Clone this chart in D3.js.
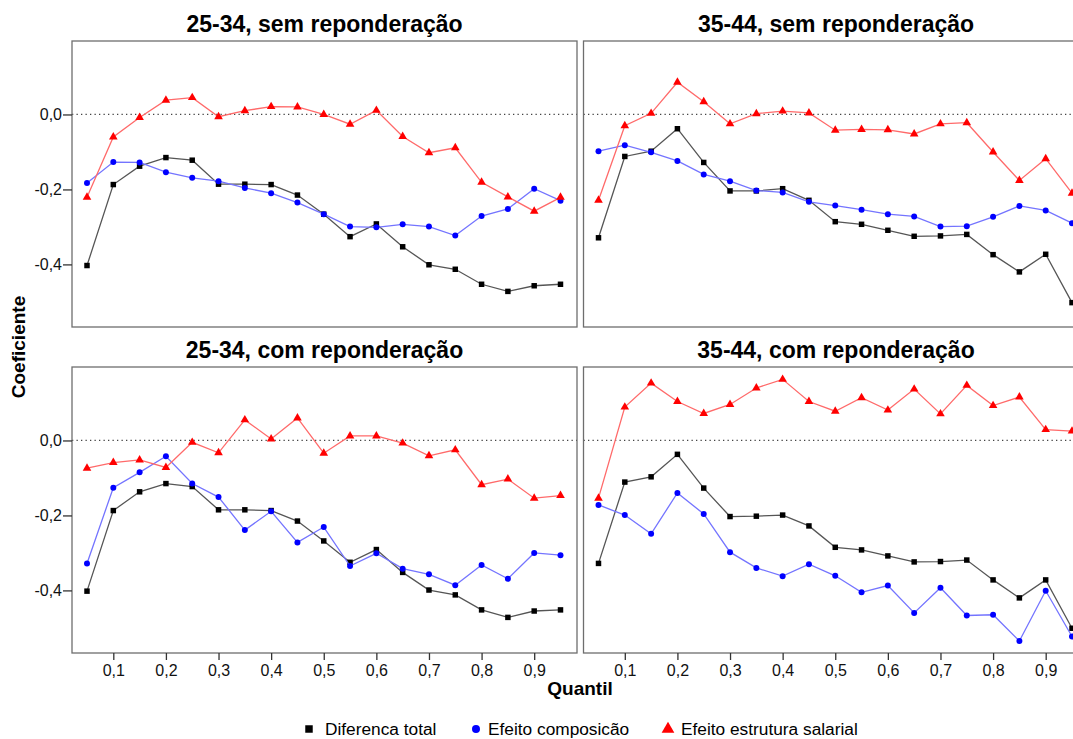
<!DOCTYPE html>
<html>
<head>
<meta charset="utf-8">
<script src="https://cdn.jsdelivr.net/npm/d3@7"></script>
<style>
  html, body { margin: 0; padding: 0; background: #fff; }
  svg { display: block; font-family: "Liberation Sans", Arial, sans-serif; }
</style>
</head>
<body>
<svg id="chart" width="1073" height="739"></svg>
<script>
// Quantiles shared by every panel
const quantis = [0.05, 0.10, 0.15, 0.20, 0.25, 0.30, 0.35, 0.40, 0.45, 0.50,
                 0.55, 0.60, 0.65, 0.70, 0.75, 0.80, 0.85, 0.90, 0.95];

// Axis ticks
const yTicks = [0, -0.2, -0.4];
const xTicks = [0.1, 0.2, 0.3, 0.4, 0.5, 0.6, 0.7, 0.8, 0.9];

// Series names
const seriesNames = ["Diferenca total", "Efeito composicão", "Efeito estrutura salarial"];

// 25-34, sem reponderação
const total2534 = [-0.403, -0.187, -0.138, -0.115, -0.122, -0.186, -0.186, -0.187, -0.215, -0.266,
                   -0.326, -0.292, -0.353, -0.401, -0.413, -0.453, -0.472, -0.457, -0.453];
const comp2534 = [-0.183, -0.127, -0.128, -0.154, -0.169, -0.178, -0.196, -0.210, -0.235, -0.266,
                  -0.299, -0.301, -0.293, -0.299, -0.323, -0.271, -0.252, -0.198, -0.230];
const estr2534 = [-0.221, -0.060, -0.008, 0.038, 0.045, -0.006, 0.010, 0.021, 0.020, 0.000,
                  -0.026, 0.011, -0.059, -0.102, -0.089, -0.181, -0.220, -0.258, -0.221];

// 35-44, sem reponderação
const total3544 = [-0.329, -0.112, -0.098, -0.038, -0.128, -0.204, -0.204, -0.198, -0.229, -0.286,
                   -0.293, -0.309, -0.325, -0.324, -0.320, -0.374, -0.420, -0.373, -0.502];
const comp3544 = [-0.098, -0.082, -0.101, -0.124, -0.160, -0.178, -0.203, -0.208, -0.233, -0.243,
                  -0.254, -0.266, -0.272, -0.299, -0.298, -0.273, -0.244, -0.256, -0.290];
const estr3544 = [-0.229, -0.030, 0.003, 0.086, 0.034, -0.025, 0.002, 0.009, 0.004, -0.042,
                  -0.040, -0.041, -0.052, -0.025, -0.022, -0.100, -0.176, -0.118, -0.210];

// 25-34, com reponderação
const total2534r = [-0.402, -0.187, -0.137, -0.115, -0.123, -0.185, -0.185, -0.187, -0.215, -0.268,
                    -0.325, -0.291, -0.352, -0.399, -0.412, -0.452, -0.472, -0.455, -0.452];
const comp2534r = [-0.328, -0.126, -0.085, -0.042, -0.115, -0.151, -0.239, -0.189, -0.272, -0.231,
                   -0.335, -0.301, -0.342, -0.357, -0.386, -0.332, -0.369, -0.300, -0.306];
const estr2534r = [-0.074, -0.059, -0.052, -0.072, -0.005, -0.033, 0.055, 0.004, 0.060, -0.034,
                   0.012, 0.012, -0.007, -0.041, -0.025, -0.118, -0.103, -0.154, -0.147];

// 35-44, com reponderação
const total3544r = [-0.328, -0.111, -0.097, -0.037, -0.127, -0.203, -0.202, -0.199, -0.228, -0.285,
                    -0.292, -0.308, -0.324, -0.323, -0.319, -0.372, -0.420, -0.372, -0.501];
const comp3544r = [-0.172, -0.199, -0.249, -0.140, -0.196, -0.298, -0.340, -0.362, -0.330, -0.361,
                   -0.405, -0.387, -0.460, -0.393, -0.467, -0.465, -0.535, -0.401, -0.523];
const estr3544r = [-0.154, 0.089, 0.153, 0.104, 0.072, 0.096, 0.140, 0.163, 0.104, 0.078,
                   0.114, 0.081, 0.137, 0.071, 0.147, 0.093, 0.116, 0.029, 0.025];

const panels = [
  { title: "25-34, sem reponderação", col: 0, row: 0, series: [total2534, comp2534, estr2534] },
  { title: "35-44, sem reponderação", col: 1, row: 0, series: [total3544, comp3544, estr3544] },
  { title: "25-34, com reponderação", col: 0, row: 1, series: [total2534r, comp2534r, estr2534r] },
  { title: "35-44, com reponderação", col: 1, row: 1, series: [total3544r, comp3544r, estr3544r] }
];

// Styles per series: marker colour, line colour, symbol
const styles = [
  { fill: "#000000", stroke: "#555555", symbol: d3.symbolSquare, size: 30 },
  { fill: "#0000ff", stroke: "#7474ff", symbol: d3.symbolCircle, size: 28 },
  { fill: "#ff0000", stroke: "#ff6a6a", symbol: d3.symbolTriangle, size: 32 }
];

const svg = d3.select("#chart");

// Panel geometry
const panelW = 505, panelH = 286;
const panelX = [72, 583.5];
const panelY = [41, 367];

const x = d3.scaleLinear().domain([0.05, 0.95]).range([15, 488.5]);
const y = d3.scaleLinear().domain([-0.567, 0.196]).range([panelH, 0]);
const fmt = v => d3.format(".1f")(v).replace(".", ",").replace("−", "-");

panels.forEach(p => {
  const g = svg.append("g")
    .attr("transform", `translate(${panelX[p.col]},${panelY[p.row]})`);

  // Title
  g.append("text")
    .attr("x", panelW / 2)
    .attr("y", -9)
    .attr("text-anchor", "middle")
    .attr("font-weight", "bold")
    .attr("font-size", 23)
    .attr("fill", "#000")
    .text(p.title);

  // Zero reference line
  g.append("line")
    .attr("x1", 0).attr("x2", panelW)
    .attr("y1", y(0)).attr("y2", y(0))
    .attr("stroke", "#444")
    .attr("stroke-width", 1.2)
    .attr("stroke-dasharray", "1.3,3.2");

  // Series lines and markers
  p.series.forEach((vals, i) => {
    const st = styles[i];
    const pts = quantis.map((q, k) => [q, vals[k]]);
    g.append("path")
      .datum(pts)
      .attr("fill", "none")
      .attr("stroke", st.stroke)
      .attr("stroke-width", 1.3)
      .attr("d", d3.line().x(d => x(d[0])).y(d => y(d[1])));
    g.selectAll(null)
      .data(pts)
      .enter()
      .append("path")
      .attr("transform", d => `translate(${x(d[0])},${y(d[1])})`)
      .attr("d", d3.symbol().type(st.symbol).size(st.size))
      .attr("fill", st.fill);
  });

  // Frame
  g.append("rect")
    .attr("x", 0).attr("y", 0)
    .attr("width", panelW).attr("height", panelH)
    .attr("fill", "none")
    .attr("stroke", "#6e6e6e")
    .attr("stroke-width", 1.3);

  // Y axis on the left column only
  if (p.col === 0) {
    const ya = g.append("g")
      .call(d3.axisLeft(y).tickValues(yTicks).tickSize(9).tickPadding(1).tickFormat(fmt));
    ya.select(".domain").remove();
    ya.selectAll(".tick line").attr("stroke", "#333").attr("stroke-width", 1.3);
    ya.selectAll(".tick text")
      .attr("font-family", "Liberation Sans, Arial, sans-serif")
      .attr("font-size", 16)
      .attr("fill", "#111");
  }

  // X axis under the bottom row only
  if (p.row === 1) {
    const xa = g.append("g")
      .attr("transform", `translate(0,${panelH})`)
      .call(d3.axisBottom(x).tickValues(xTicks).tickSize(7).tickPadding(5).tickFormat(fmt));
    xa.select(".domain").remove();
    xa.selectAll(".tick line").attr("stroke", "#333").attr("stroke-width", 1.3);
    xa.selectAll(".tick text")
      .attr("font-family", "Liberation Sans, Arial, sans-serif")
      .attr("font-size", 16)
      .attr("fill", "#111");
  }
});

// Axis titles
svg.append("text")
  .attr("transform", "translate(25,347) rotate(-90)")
  .attr("text-anchor", "middle")
  .attr("font-weight", "bold")
  .attr("font-size", 19)
  .text("Coeficiente");

svg.append("text")
  .attr("x", 580)
  .attr("y", 695)
  .attr("text-anchor", "middle")
  .attr("font-weight", "bold")
  .attr("font-size", 19)
  .text("Quantil");

// Legend
const legendItems = [
  { sx: 309, tx: 325 },
  { sx: 476, tx: 488 },
  { sx: 668, tx: 681 }
];
const legend = svg.append("g").attr("transform", "translate(0,729)");
legendItems.forEach((it, i) => {
  const st = styles[i];
  legend.append("path")
    .attr("transform", `translate(${it.sx},0)`)
    .attr("d", d3.symbol().type(st.symbol).size(i === 2 ? 70 : (i === 0 ? 56 : 50)))
    .attr("fill", st.fill);
  legend.append("text")
    .attr("x", it.tx)
    .attr("y", 5.5)
    .attr("font-size", 17.3)
    .attr("fill", "#000")
    .text(seriesNames[i]);
});
</script>
</body>
</html>
